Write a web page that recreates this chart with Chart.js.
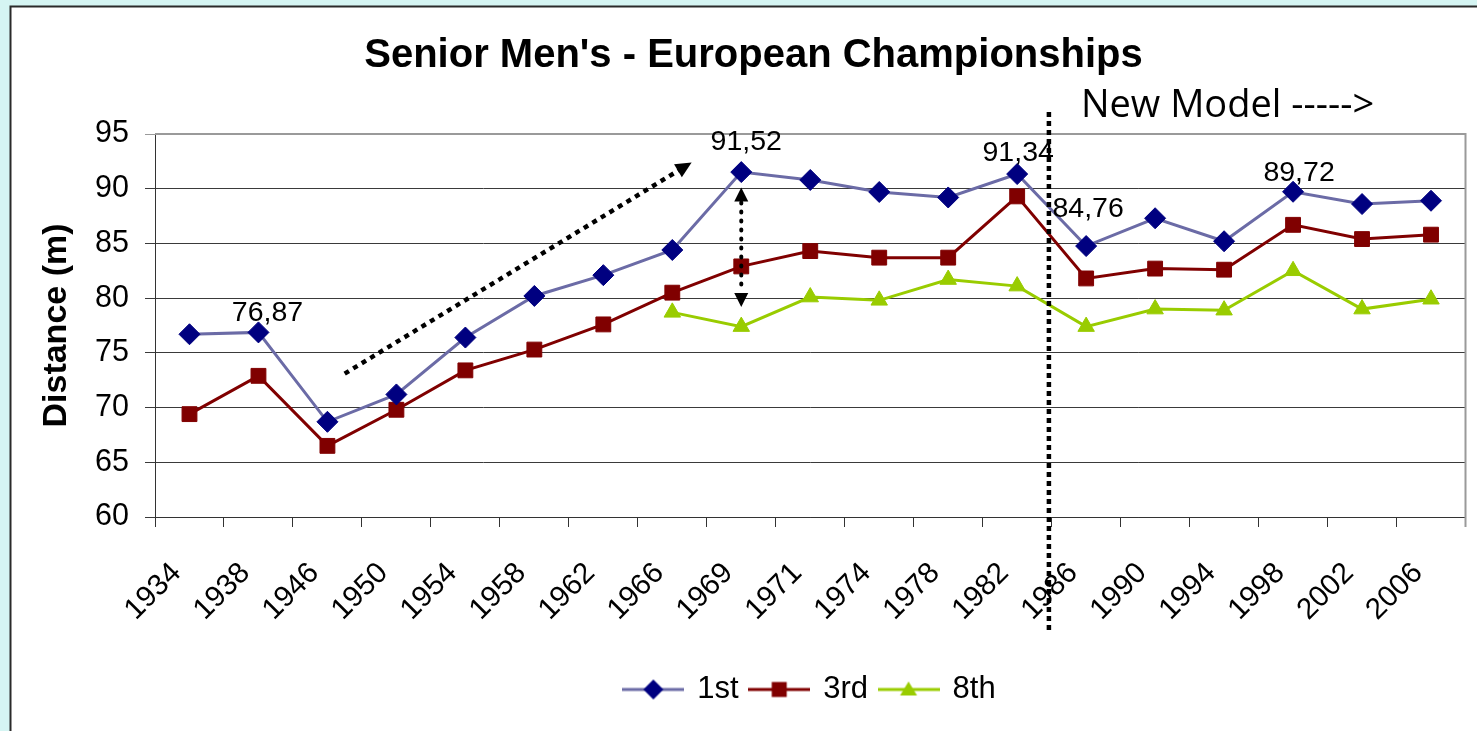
<!DOCTYPE html>
<html>
<head>
<meta charset="utf-8">
<script src="https://cdn.jsdelivr.net/npm/chart.js@4.4.1/dist/chart.umd.min.js"></script>
<style>
html,body{margin:0;padding:0;background:#d5f5f3;overflow:hidden;}
#wrap{position:relative;width:1477px;height:731px;}
canvas{display:block;}
</style>
</head>
<body>
<div id="wrap"><canvas id="c" width="1477" height="731"></canvas></div>
<script>
// ---- data ----
const categories = ['1934','1938','1946','1950','1954','1958','1962','1966','1969','1971','1974','1978','1982','1986','1990','1994','1998','2002','2006'];
const first  = [76.7, 76.87, 68.7, 71.2, 76.4, 80.2, 82.1, 84.4, 91.52, 90.8, 89.7, 89.2, 91.34, 84.76, 87.3, 85.2, 89.72, 88.6, 88.9];
const third  = [69.4, 72.9, 66.5, 69.8, 73.4, 75.3, 77.6, 80.5, 82.9, 84.3, 83.7, 83.7, 89.3, 81.8, 82.7, 82.6, 86.7, 85.4, 85.8];
const eighth = [null, null, null, null, null, null, null, 78.7, 77.4, 80.1, 79.8, 81.7, 81.1, 77.4, 79.0, 78.9, 82.5, 79.0, 79.9];
const seriesNames = ['1st', '3rd', '8th'];
const yTickValues = [60, 65, 70, 75, 80, 85, 90, 95];
const labelledYears = ['1938', '1969', '1982', '1986', '1998'];
const titleText = "Senior Men's - European Championships";
const yAxisTitle = 'Distance (m)';
const noteText = 'New Model ----->';

const FONT = "'Liberation Sans', Arial, Helvetica, sans-serif";
const colors = {
  firstLine: '#6b6ba6', firstMarker: '#000080',
  third: '#800000', eighth: '#99cc00'
};

function legendImage(lineColor, markerColor, style) {
  const c = document.createElement('canvas');
  c.width = 62; c.height = 24;
  const g = c.getContext('2d');
  g.strokeStyle = lineColor; g.lineWidth = 3;
  g.beginPath(); g.moveTo(0, 12); g.lineTo(62, 12); g.stroke();
  g.fillStyle = markerColor;
  g.beginPath();
  if (style === 'diamond') {
    g.moveTo(31, 2); g.lineTo(41, 12); g.lineTo(31, 22); g.lineTo(21, 12);
  } else if (style === 'square') {
    g.rect(23.5, 4.5, 15, 15);
  } else {
    g.moveTo(31, 4); g.lineTo(39.5, 18); g.lineTo(22.5, 18);
  }
  g.closePath(); g.fill();
  return c;
}
const legendImgs = [
  legendImage(colors.firstLine, colors.firstMarker, 'diamond'),
  legendImage(colors.third, colors.third, 'square'),
  legendImage(colors.eighth, colors.eighth, 'triangle')
];

const framePlugin = {
  id: 'frame',
  beforeDraw(chart) {
    const ctx = chart.ctx;
    ctx.save();
    ctx.fillStyle = '#d5f5f3';
    ctx.fillRect(0, 0, chart.width, chart.height);
    ctx.fillStyle = '#ffffff';
    ctx.fillRect(10, 6, chart.width, chart.height);
    ctx.strokeStyle = '#2a2a2a';
    ctx.lineWidth = 2;
    ctx.beginPath();
    ctx.moveTo(10.5, chart.height + 5); ctx.lineTo(10.5, 6.5); ctx.lineTo(chart.width + 5, 6.5);
    ctx.stroke();
    ctx.restore();
  },
  beforeDatasetsDraw(chart) {
    const {ctx, chartArea: a} = chart;
    ctx.save();
    ctx.strokeStyle = '#9a9a9a';
    ctx.lineWidth = 2;
    ctx.beginPath();
    ctx.moveTo(a.left, a.top); ctx.lineTo(a.right, a.top); ctx.lineTo(a.right, a.bottom + 10);
    ctx.stroke();
    ctx.restore();
  }
};

const labelOffsets = {'1938': [9, -19], '1969': [5, -30], '1982': [1, -21], '1986': [2, -37], '1998': [6, -19]};
const dataLabelPlugin = {
  id: 'dataLabels',
  afterDatasetsDraw(chart) {
    const ctx = chart.ctx;
    const meta = chart.getDatasetMeta(0);
    ctx.save();
    ctx.font = '28.5px ' + FONT;
    ctx.fillStyle = '#000';
    ctx.textAlign = 'center';
    ctx.textBaseline = 'middle';
    labelledYears.forEach(yr => {
      const i = categories.indexOf(yr);
      const pt = meta.data[i];
      const v = chart.data.datasets[0].data[i];
      const off = labelOffsets[yr];
      ctx.fillText(v.toFixed(2).replace('.', ','), pt.x + off[0], pt.y + off[1]);
    });
    ctx.restore();
  }
};

function arrowHead(ctx, x, y, angle, len, width) {
  ctx.save();
  ctx.translate(x, y);
  ctx.rotate(angle);
  ctx.beginPath();
  ctx.moveTo(0, 0);
  ctx.lineTo(-len, -width / 2);
  ctx.lineTo(-len, width / 2);
  ctx.closePath();
  ctx.fill();
  ctx.restore();
}

const annotationPlugin = {
  id: 'annotations',
  afterDraw(chart) {
    const {ctx} = chart;
    const xs = chart.scales.x, ys = chart.scales.y;
    ctx.save();
    ctx.fillStyle = '#000';
    ctx.strokeStyle = '#000';
    // diagonal trend arrow
    const x1 = xs.getPixelForValue(2.25), y1 = ys.getPixelForValue(73.1);
    const x2 = xs.getPixelForValue(7.28), y2 = ys.getPixelForValue(92.4);
    const ang = Math.atan2(y2 - y1, x2 - x1);
    ctx.lineWidth = 4.5;
    ctx.setLineDash([5, 5]);
    ctx.beginPath();
    ctx.moveTo(x1, y1);
    ctx.lineTo(x2 - Math.cos(ang) * 14, y2 - Math.sin(ang) * 14);
    ctx.stroke();
    ctx.setLineDash([]);
    arrowHead(ctx, x2, y2, ang, 16, 15);
    // vertical double arrow at 1969
    const vx = xs.getPixelForValue(8);
    const vt = ys.getPixelForValue(90.1), vb = ys.getPixelForValue(79.2);
    ctx.lineWidth = 4;
    ctx.lineCap = 'round';
    ctx.setLineDash([1, 8]);
    ctx.beginPath();
    ctx.moveTo(vx, vt + 15); ctx.lineTo(vx, vb - 15);
    ctx.stroke();
    ctx.setLineDash([]);
    ctx.lineCap = 'butt';
    arrowHead(ctx, vx, vt, -Math.PI / 2, 14, 14);
    arrowHead(ctx, vx, vb, Math.PI / 2, 14, 14);
    // new model separator
    const sx = xs.getPixelForValue(12.46);
    ctx.lineWidth = 4.5;
    ctx.setLineDash([5, 4]);
    ctx.beginPath();
    ctx.moveTo(sx, ys.getPixelForValue(97.0));
    ctx.lineTo(sx, ys.getPixelForValue(49.4));
    ctx.stroke();
    ctx.setLineDash([]);
    // note text
    ctx.font = "38px 'Open Sans', 'Liberation Sans', sans-serif";
    ctx.textAlign = 'left';
    ctx.textBaseline = 'alphabetic';
    ctx.fillText(noteText, sx + 32, 117);
    ctx.restore();
  }
};

new Chart(document.getElementById('c'), {
  type: 'line',
  data: {
    labels: categories,
    datasets: [
      { label: seriesNames[0], data: first, borderColor: colors.firstLine, backgroundColor: colors.firstMarker,
        pointBackgroundColor: colors.firstMarker, pointBorderColor: colors.firstMarker, pointStyle: 'rectRot',
        pointRadius: 10.5, pointBorderWidth: 1, borderWidth: 3, tension: 0 },
      { label: seriesNames[1], data: third, borderColor: colors.third, backgroundColor: colors.third,
        pointBackgroundColor: colors.third, pointBorderColor: colors.third, pointStyle: 'rect',
        pointRadius: 10.5, pointBorderWidth: 1, borderWidth: 3, tension: 0 },
      { label: seriesNames[2], data: eighth, borderColor: colors.eighth, backgroundColor: colors.eighth,
        pointBackgroundColor: colors.eighth, pointBorderColor: colors.eighth, pointStyle: 'triangle',
        pointRadius: 9.5, pointBorderWidth: 1, borderWidth: 3, tension: 0, spanGaps: false }
    ]
  },
  options: {
    responsive: false,
    animation: false,
    events: [],
    layout: { padding: { left: 40, right: 10, top: 0, bottom: 16 } },
    plugins: {
      title: {
        display: true, text: titleText, color: '#000',
        font: { family: FONT, size: 40, weight: 'bold', lineHeight: 1.2 },
        padding: { top: 32, bottom: 54 }
      },
      legend: {
        display: true, position: 'bottom', fullSize: false,
        labels: {
          color: '#000', font: { family: FONT, size: 31 }, padding: 12,
          usePointStyle: true, pointStyleWidth: 57, boxHeight: 31,
          generateLabels: (chart) => chart.data.datasets.map((ds, i) => ({
            text: ds.label, pointStyle: legendImgs[i], fillStyle: ds.borderColor,
            strokeStyle: ds.borderColor, lineWidth: 0, hidden: false, datasetIndex: i, fontColor: '#000'
          }))
        }
      },
      tooltip: { enabled: false }
    },
    scales: {
      x: {
        type: 'category', offset: true,
        grid: { offset: true, drawOnChartArea: false, drawTicks: true, tickLength: 10, color: '#333', lineWidth: 1 },
        border: { display: true, color: '#333', width: 1 },
        ticks: { autoSkip: false, maxRotation: 45, minRotation: 45, color: '#000',
                 font: { family: FONT, size: 29.5 }, padding: 29, labelOffset: -13 },
        afterFit: (s) => { s.height = 145; s.paddingLeft = 0; s.paddingRight = 0; }
      },
      y: {
        min: 60, max: 95,
        afterBuildTicks: (s) => { s.ticks = yTickValues.map(v => ({ value: v })); },
        grid: { color: (c) => c.tick && c.tick.value === 95 ? '#9a9a9a' : '#3a3a3a', lineWidth: 1, tickLength: 10, drawTicks: true },
        border: { display: true, color: '#333', width: 1 },
        ticks: { color: '#000', font: { family: FONT, size: 30.5 }, padding: 16 },
        title: { display: true, text: yAxisTitle, color: '#000',
                 font: { family: FONT, size: 34, weight: 'bold', lineHeight: 1 }, padding: { top: 0, bottom: 0 } },
        afterFit: (s) => { s.width = 115; s.paddingTop = 0; s.paddingBottom = 0; }
      }
    }
  },
  plugins: [framePlugin, dataLabelPlugin, annotationPlugin]
});
</script>
</body>
</html>
